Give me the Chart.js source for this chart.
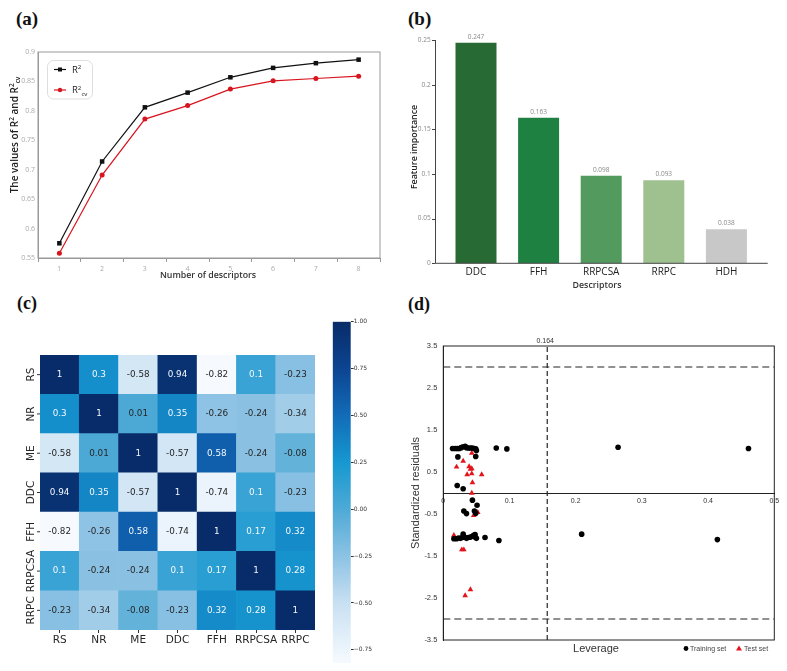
<!DOCTYPE html>
<html>
<head>
<meta charset="utf-8">
<script src="https://cdn.jsdelivr.net/npm/chart.js@4.4.1/dist/chart.umd.min.js"></script>
<style>
body { margin: 0; background: #fff; width: 787px; height: 671px; position: relative; overflow: hidden; }
.panel { position: absolute; }
.tag { position: absolute; font-family: "Liberation Serif", "DejaVu Serif", serif; font-weight: bold; font-size: 19px; line-height: 1; color: #111; }
</style>
</head>
<body>
<div class="tag" style="left:16px;top:9px">(a)</div>
<div class="tag" style="left:408px;top:9px">(b)</div>
<div class="tag" style="left:17px;top:294px;font-size:18px">(c)</div>
<div class="tag" style="left:408px;top:295px;font-size:18px">(d)</div>

<div class="panel" style="left:0;top:0;width:400px;height:290px"><canvas id="chartA"></canvas></div>
<div class="panel" style="left:400px;top:0;width:387px;height:290px"><canvas id="chartB"></canvas></div>
<div class="panel" style="left:0;top:290px;width:400px;height:381px"><canvas id="chartC"></canvas></div>
<div class="panel" style="left:320px;top:300px;width:80px;height:371px"><canvas id="chartBar"></canvas></div>
<div class="panel" style="left:400px;top:290px;width:387px;height:381px"><canvas id="chartD"></canvas></div>

<script>
// (a) R2 vs number of descriptors
const descriptorCounts = ['1', '2', '3', '4', '5', '6', '7', '8'];
const r2Values = [0.575, 0.714, 0.806, 0.831, 0.857, 0.873, 0.881, 0.887];
const r2cvValues = [0.558, 0.691, 0.786, 0.809, 0.837, 0.851, 0.855, 0.859];
const r2TickValues = [0.55, 0.6, 0.65, 0.7, 0.75, 0.8, 0.85, 0.9];
const r2TickLabels = ['0.55', '0.6', '0.65', '0.7', '0.75', '0.8', '0.85', '0.9'];

// (b) feature importance
const featureNames = ['DDC', 'FFH', 'RRPCSA', 'RRPC', 'HDH'];
const featureImportance = [0.247, 0.163, 0.098, 0.093, 0.038];
const featureValueLabels = ['0.247', '0.163', '0.098', '0.093', '0.038'];
const importanceTickValues = [0, 0.05, 0.1, 0.15, 0.2, 0.25];
const importanceTickLabels = ['0', '0.05', '0.1', '0.15', '0.2', '0.25'];
const featureColors = ['#276a34', '#1f8141', '#529a5e', '#9fc18f', '#c8c8c8'];

// (c) correlation matrix
const corrNames = ['RS', 'NR', 'ME', 'DDC', 'FFH', 'RRPCSA', 'RRPC'];
const corrRS = [1, 0.3, -0.58, 0.94, -0.82, 0.1, -0.23];
const corrNR = [0.3, 1, 0.01, 0.35, -0.26, -0.24, -0.34];
const corrME = [-0.58, 0.01, 1, -0.57, 0.58, -0.24, -0.08];
const corrDDC = [0.94, 0.35, -0.57, 1, -0.74, 0.1, -0.23];
const corrFFH = [-0.82, -0.26, 0.58, -0.74, 1, 0.17, 0.32];
const corrRRPCSA = [0.1, -0.24, -0.24, 0.1, 0.17, 1, 0.28];
const corrRRPC = [-0.23, -0.34, -0.08, -0.23, 0.32, 0.28, 1];
const corrRows = [corrRS, corrNR, corrME, corrDDC, corrFFH, corrRRPCSA, corrRRPC];
const colorbarTicks = [-0.75, -0.5, -0.25, 0, 0.25, 0.5, 0.75, 1];
const colorbarLabels = ['\u22120.75', '\u22120.50', '\u22120.25', '0.00', '0.25', '0.50', '0.75', '1.00'];

// (d) Williams plot
const trainingLeverage = [
  0.014, 0.018, 0.021, 0.024, 0.027, 0.030, 0.033, 0.035, 0.038, 0.041, 0.044, 0.047, 0.049, 0.050,
  0.080, 0.096, 0.264, 0.461,
  0.022, 0.049, 0.021, 0.030, 0.044, 0.051, 0.031, 0.035, 0.047, 0.049,
  0.016, 0.020, 0.023, 0.026, 0.029, 0.032, 0.035, 0.038, 0.041, 0.044, 0.046, 0.048, 0.050, 0.030, 0.048,
  0.063, 0.084, 0.209, 0.414
];
const trainingResiduals = [
  1.06, 1.06, 1.06, 1.06, 1.08, 1.10, 1.11, 1.08, 1.07, 1.07, 1.07, 1.06, 1.05, 1.01,
  1.07, 1.05, 1.09, 1.06,
  0.86, 0.87, 0.18, 0.10, -0.17, -0.29, -0.43, -0.49, -0.43, -0.48,
  -1.09, -1.09, -1.07, -1.08, -1.06, -1.05, -1.08, -1.06, -1.05, -1.03, -1.01, -1.05, -1.08, -0.98, -0.99,
  -1.06, -1.13, -0.98, -1.11
];
const testLeverage = [0.043, 0.030, 0.020, 0.039, 0.041, 0.043, 0.036, 0.043, 0.058, 0.044, 0.043, 0.052, 0.046, 0.016, 0.028, 0.031, 0.041, 0.033];
const testResiduals = [0.95, 0.76, 0.62, 0.63, 0.57, 0.58, 0.44, 0.46, 0.44, 0.25, 0.00, -0.46, -0.53, -1.01, -1.35, -1.35, -2.30, -2.44];
const residualTicks = [-3.5, -2.5, -1.5, -0.5, 0.5, 1.5, 2.5, 3.5];
const residualTickLabels = ['-3.5', '-2.5', '-1.5', '-0.5', '0.5', '1.5', '2.5', '3.5'];
const leverageTicks = [0, 0.1, 0.2, 0.3, 0.4, 0.5];
const leverageTickLabels = ['0', '0.1', '0.2', '0.3', '0.4', '0.5'];
const warningResidual = 3;
const leverageLineX = 0.157;
const leverageLineLabel = '0.164';

Chart.defaults.font.family = '"Open Sans", sans-serif';
Chart.defaults.animation = false;
Chart.defaults.responsive = true;
Chart.defaults.maintainAspectRatio = false;
Chart.defaults.plugins.legend.display = false;
Chart.defaults.plugins.tooltip.enabled = false;

function fixedTicks(values) {
  return scale => { scale.ticks = values.map(v => ({ value: v })); };
}

function labelFrom(values, labels) {
  return v => {
    const i = values.findIndex(t => Math.abs(t - v) < 1e-9);
    return i < 0 ? '' : labels[i];
  };
}

// text with superscript / subscript parts, optionally rotated
function drawRich(ctx, parts, x, y, size, weight, color, opts) {
  opts = opts || {};
  ctx.save();
  ctx.translate(x, y);
  if (opts.rotate) ctx.rotate(-Math.PI / 2);
  ctx.fillStyle = color;
  ctx.textBaseline = 'alphabetic';
  ctx.textAlign = 'left';
  const fam = opts.family || '"Open Sans", sans-serif';
  const fontFor = p => weight + ' ' + (p[1] ? size * 0.65 : size) + 'px ' + fam;
  let total = 0;
  const widths = parts.map(p => { ctx.font = fontFor(p); const w = ctx.measureText(p[0]).width; total += w; return w; });
  let cx = opts.left ? 0 : -total / 2;
  parts.forEach((p, i) => {
    ctx.font = fontFor(p);
    const dy = p[1] === 'sup' ? -size * 0.4 : p[1] === 'sub' ? size * 0.22 : 0;
    ctx.fillText(p[0], cx, size * 0.36 + dy);
    cx += widths[i];
  });
  ctx.restore();
}

function drawText(ctx, text, x, y, font, color, align, rotate) {
  ctx.save();
  ctx.translate(x, y);
  if (rotate) ctx.rotate(-Math.PI / 2);
  ctx.font = font;
  ctx.fillStyle = color;
  ctx.textAlign = align || 'center';
  ctx.textBaseline = 'middle';
  ctx.fillText(text, 0, 0);
  ctx.restore();
}

// ---------- (a) ----------
new Chart(document.getElementById('chartA'), {
  type: 'line',
  data: {
    labels: descriptorCounts,
    datasets: [
      { label: 'R2', data: r2Values, borderColor: '#111', backgroundColor: '#111', borderWidth: 1.2,
        pointStyle: 'rect', pointRadius: 3.2, pointBorderWidth: 0 },
      { label: 'R2cv', data: r2cvValues, borderColor: '#d8141e', backgroundColor: '#d8141e', borderWidth: 1.2,
        pointStyle: 'circle', pointRadius: 2.5, pointBorderWidth: 0 }
    ]
  },
  options: {
    layout: { padding: { top: 52, right: 20, left: 0, bottom: 0 } },
    scales: {
      x: {
        offset: true,
        grid: { display: true, drawOnChartArea: false, offset: true, tickLength: 4, color: '#999' },
        border: { color: '#999' },
        ticks: { color: '#aaa', font: { size: 7 }, padding: 3 },
        afterFit: s => { s.height = 32; }
      },
      y: {
        min: 0.55, max: 0.9,
        afterBuildTicks: fixedTicks(r2TickValues),
        ticks: { color: '#aaa', font: { size: 7 }, padding: 3, callback: labelFrom(r2TickValues, r2TickLabels) },
        grid: { display: false, drawTicks: false },
        border: { color: '#999' },
        afterFit: s => { s.width = 38; }
      }
    }
  },
  plugins: [{
    id: 'decorA',
    afterDraw(chart) {
      const ctx = chart.ctx;
      const a = chart.chartArea;
      ctx.save();
      ctx.strokeStyle = '#999';
      ctx.lineWidth = 1;
      ctx.strokeRect(a.left, a.top, a.right - a.left, a.bottom - a.top);
      // legend box
      ctx.strokeStyle = '#dedede';
      ctx.beginPath();
      ctx.roundRect(47.5, 60.5, 45, 38.5, 6);
      ctx.stroke();
      ctx.strokeStyle = '#111'; ctx.fillStyle = '#111'; ctx.lineWidth = 1.2;
      ctx.beginPath(); ctx.moveTo(54, 69.5); ctx.lineTo(66, 69.5); ctx.stroke();
      ctx.fillRect(58, 67.5, 4, 4);
      ctx.strokeStyle = '#d8141e'; ctx.fillStyle = '#d8141e';
      ctx.beginPath(); ctx.moveTo(54, 90); ctx.lineTo(66, 90); ctx.stroke();
      ctx.beginPath(); ctx.arc(60, 90, 2.2, 0, Math.PI * 2); ctx.fill();
      ctx.restore();
      drawRich(ctx, [['R', 0], ['2', 'sup']], 72, 69.5, 9.5, 'normal', '#222', { left: true });
      drawRich(ctx, [['R', 0], ['2', 'sup'], ['cv', 'sub']], 72, 90, 9.5, 'normal', '#222', { left: true });
      drawRich(ctx, [['The values of R', 0], ['2', 'sup'], [' and R', 0], ['2', 'sup'], ['cv', 'sub']],
        14, 135, 10, '600', '#222', { rotate: true });
      drawText(ctx, 'Number of descriptors', 208, 275, '600 8.8px "Open Sans", sans-serif', '#333');
    }
  }]
});

// ---------- (b) ----------
new Chart(document.getElementById('chartB'), {
  type: 'bar',
  data: {
    labels: featureNames,
    datasets: [{ data: featureImportance, backgroundColor: featureColors, borderWidth: 0,
      barPercentage: 0.655, categoryPercentage: 1 }]
  },
  options: {
    layout: { padding: { top: 40, right: 29.3, left: 0, bottom: 0 } },
    scales: {
      x: {
        grid: { display: false, drawTicks: false }, border: { display: false },
        ticks: { color: '#222', font: { size: 10 }, padding: 3, maxRotation: 0, autoSkip: false },
        afterFit: s => { s.height = 26.7; }
      },
      y: {
        min: 0, max: 0.25,
        afterBuildTicks: fixedTicks(importanceTickValues),
        ticks: { color: '#888', font: { size: 6.5 }, padding: 14, callback: labelFrom(importanceTickValues, importanceTickLabels) },
        grid: { display: false, drawTicks: false }, border: { display: false },
        afterFit: s => { s.width = 44.7; }
      }
    }
  },
  plugins: [{
    id: 'decorB',
    afterDraw(chart) {
      const ctx = chart.ctx;
      const a = chart.chartArea;
      const y = chart.scales.y;
      const axisX = a.left - 9.7;
      ctx.save();
      ctx.strokeStyle = '#444';
      ctx.lineWidth = 1;
      ctx.beginPath();
      ctx.moveTo(axisX + 0.5, y.getPixelForValue(0.25));
      ctx.lineTo(axisX + 0.5, a.bottom);
      ctx.lineTo(a.right + 10, a.bottom);
      importanceTickValues.forEach(v => {
        const py = Math.round(y.getPixelForValue(v)) + 0.5;
        ctx.moveTo(axisX - 3, py); ctx.lineTo(axisX + 0.5, py);
      });
      ctx.stroke();
      ctx.restore();
      const meta = chart.getDatasetMeta(0);
      meta.data.forEach((bar, i) => {
        drawText(ctx, featureValueLabels[i], bar.x, bar.y - 6, '6.5px "Open Sans", sans-serif', '#888');
      });
      drawText(ctx, 'Feature importance', 14, 147, '600 8.8px "Open Sans", sans-serif', '#222', 'center', true);
      drawText(ctx, 'Descriptors', 197, 285, '600 8.8px "Open Sans", sans-serif', '#333');
    }
  }]
});

// ---------- (c) ----------
const cmapStops = [
  [-0.82, [246, 250, 255]],
  [-0.5, [200, 224, 242]],
  [-0.25, [140, 194, 228]],
  [0, [78, 170, 214]],
  [0.25, [22, 152, 208]],
  [0.5, [18, 108, 184]],
  [0.75, [12, 68, 145]],
  [1, [8, 44, 105]]
];
const cbarMin = Math.min(...corrRows.flat());
const cbarMax = 1;

function corrColor(v) {
  for (let i = 1; i < cmapStops.length; i++) {
    const [v1, c1] = cmapStops[i];
    const [v0, c0] = cmapStops[i - 1];
    if (v <= v1) {
      const t = Math.max(0, (v - v0) / (v1 - v0));
      const c = c0.map((x, k) => Math.round(x + (c1[k] - x) * t));
      return 'rgb(' + c.join(',') + ')';
    }
  }
  return 'rgb(' + cmapStops[cmapStops.length - 1][1].join(',') + ')';
}

// bottom row first so the stacked bars build the matrix upward
const heatDatasets = corrRows.slice().reverse().map(row => ({
  data: row.map(() => 1),
  corr: row,
  backgroundColor: row.map(corrColor),
  borderWidth: 0,
  barPercentage: 1,
  categoryPercentage: 1
}));

new Chart(document.getElementById('chartC'), {
  type: 'bar',
  data: { labels: corrNames, datasets: heatDatasets },
  options: {
    layout: { padding: { top: 65, right: 85, left: 40, bottom: 0 } },
    scales: {
      x: {
        stacked: true,
        grid: { display: true, drawOnChartArea: false, offset: false, tickLength: 3, color: '#333' },
        border: { display: false },
        ticks: { color: '#262626', font: { size: 10.5, family: '"DejaVu Sans", sans-serif' }, padding: 1,
          maxRotation: 0, minRotation: 0, autoSkip: false },
        afterFit: s => { s.height = 41; }
      },
      y: { stacked: true, min: 0, max: 7, display: false }
    }
  },
  plugins: [{
    id: 'decorC',
    afterDatasetsDraw(chart) {
      const ctx = chart.ctx;
      chart.data.datasets.forEach((ds, d) => {
        chart.getDatasetMeta(d).data.forEach((cell, c) => {
          const v = ds.corr[c];
          drawText(ctx, String(v), cell.x, (cell.y + cell.base) / 2,
            '8.8px "DejaVu Sans", sans-serif', v > 0.05 ? '#f4f8fc' : '#262626');
        });
      });
      const y = chart.scales.y;
      const left = chart.chartArea.left;
      corrNames.forEach((name, i) => {
        const py = y.getPixelForValue(corrNames.length - i - 0.5);
        drawText(ctx, name, left - 8.5, py, '10.5px "DejaVu Sans", sans-serif', '#262626', 'center', true);
        ctx.save();
        ctx.strokeStyle = '#333';
        ctx.beginPath(); ctx.moveTo(left - 3, py); ctx.lineTo(left, py); ctx.stroke();
        ctx.restore();
      });
    }
  }]
});

// colorbar
new Chart(document.getElementById('chartBar'), {
  type: 'bar',
  data: {
    labels: [''],
    datasets: [{
      data: [[cbarMin, cbarMax]],
      borderWidth: 0, barPercentage: 1, categoryPercentage: 1,
      backgroundColor: c => {
        const chart = c.chart;
        if (!chart.chartArea) return '#6baed6';
        const y = chart.scales.y;
        const g = chart.ctx.createLinearGradient(0, y.getPixelForValue(cbarMin), 0, y.getPixelForValue(cbarMax));
        cmapStops.forEach(([v, rgb]) => g.addColorStop((v - cbarMin) / (cbarMax - cbarMin), 'rgb(' + rgb.join(',') + ')'));
        return g;
      }
    }]
  },
  options: {
    layout: { padding: { left: 12.7, top: 21.7, bottom: 8, right: 0 } },
    scales: {
      x: { display: false },
      y: {
        position: 'right', min: cbarMin, max: cbarMax,
        afterBuildTicks: fixedTicks(colorbarTicks),
        ticks: { color: '#333', font: { size: 6, family: '"DejaVu Sans", sans-serif' }, padding: 0,
          callback: labelFrom(colorbarTicks, colorbarLabels) },
        grid: { display: true, drawOnChartArea: false, tickLength: 3, color: '#333' },
        border: { display: false },
        afterFit: s => { s.width = 49.3; }
      }
    }
  }
});

// ---------- (d) ----------
const toPoints = (xs, ys) => xs.map((x, i) => ({ x: x, y: ys[i] }));

new Chart(document.getElementById('chartD'), {
  type: 'scatter',
  data: {
    datasets: [
      { label: 'Training set', data: toPoints(trainingLeverage, trainingResiduals),
        pointStyle: 'circle', pointRadius: 2.8, backgroundColor: '#000', borderColor: '#000', borderWidth: 0 },
      { label: 'Test set', data: toPoints(testLeverage, testResiduals),
        pointStyle: 'triangle', pointRadius: 3.3, backgroundColor: '#e3141c', borderColor: '#e3141c', borderWidth: 0 },
      { data: [{ x: 0, y: warningResidual }, { x: 0.5, y: warningResidual }], showLine: true, pointRadius: 0,
        borderColor: '#222', borderWidth: 1, borderDash: [7, 4] },
      { data: [{ x: 0, y: -warningResidual }, { x: 0.5, y: -warningResidual }], showLine: true, pointRadius: 0,
        borderColor: '#222', borderWidth: 1, borderDash: [7, 4] },
      { data: [{ x: leverageLineX, y: -3.5 }, { x: leverageLineX, y: 3.5 }], showLine: true, pointRadius: 0,
        borderColor: '#222', borderWidth: 1.2, borderDash: [5, 3] }
    ]
  },
  options: {
    layout: { padding: { top: 56, right: 12.7, left: 0, bottom: 31 } },
    scales: {
      x: {
        type: 'linear', min: 0, max: 0.5, position: { y: 0 },
        afterBuildTicks: fixedTicks(leverageTicks),
        ticks: { color: '#333', font: { size: 7, family: '"Liberation Sans", sans-serif' }, padding: 4,
          callback: labelFrom(leverageTicks, leverageTickLabels) },
        grid: { display: false, drawTicks: false },
        border: { color: '#222' }
      },
      y: {
        min: -3.5, max: 3.5,
        afterBuildTicks: fixedTicks(residualTicks),
        ticks: { color: '#333', font: { size: 7.5, family: '"Liberation Sans", sans-serif' }, padding: 6,
          callback: labelFrom(residualTicks, residualTickLabels) },
        grid: { display: false, drawTicks: false },
        border: { color: '#222' },
        afterFit: s => { s.width = 43.3; }
      }
    }
  },
  plugins: [{
    id: 'decorD',
    afterDraw(chart) {
      const ctx = chart.ctx;
      const a = chart.chartArea;
      const x = chart.scales.x;
      ctx.save();
      ctx.strokeStyle = '#222';
      ctx.lineWidth = 1;
      ctx.strokeRect(a.left, a.top, a.right - a.left, a.bottom - a.top);
      ctx.restore();
      const sans = '"Liberation Sans", sans-serif';
      drawText(ctx, leverageLineLabel, x.getPixelForValue(leverageLineX) - 2, a.top - 5, '7px ' + sans, '#333');
      drawText(ctx, 'Standardized residuals', 16, 203, '11px ' + sans, '#333', 'center', true);
      drawText(ctx, 'Leverage', 196, 358.5, '11px ' + sans, '#333');
      // legend
      ctx.save();
      ctx.fillStyle = '#000';
      ctx.beginPath(); ctx.arc(286, 358.5, 2.4, 0, Math.PI * 2); ctx.fill();
      ctx.fillStyle = '#e3141c';
      ctx.beginPath(); ctx.moveTo(339, 355.5); ctx.lineTo(342, 360.5); ctx.lineTo(336, 360.5); ctx.closePath(); ctx.fill();
      ctx.restore();
      drawText(ctx, 'Training set', 290, 358.7, '7px ' + sans, '#444', 'left');
      drawText(ctx, 'Test set', 344, 358.7, '7px ' + sans, '#444', 'left');
    }
  }]
});
</script>
</body>
</html>
